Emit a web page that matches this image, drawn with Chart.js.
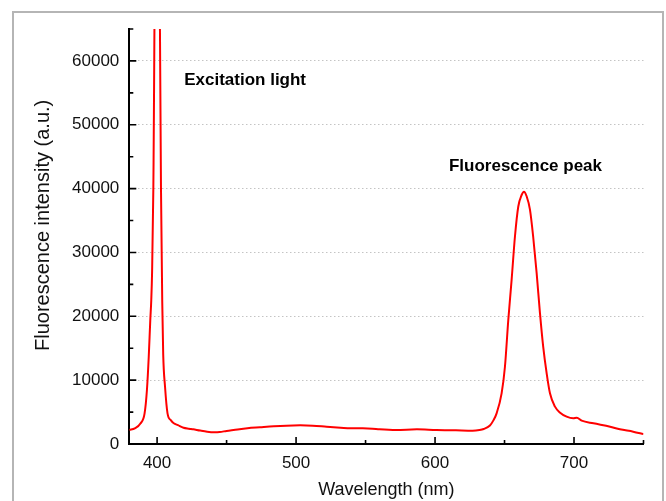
<!DOCTYPE html>
<html>
<head>
<meta charset="utf-8">
<script src="https://cdn.jsdelivr.net/npm/chart.js@4.4.0/dist/chart.umd.min.js"></script>
<style>
  html, body { margin: 0; padding: 0; background: #fff; overflow: hidden; }
  #wrap { position: relative; width: 666px; height: 501px; }
  #frame { position: absolute; left: 12px; top: 11px; width: 648px; height: 500px;
           border: 2px solid #b5b5b5; border-bottom: none; pointer-events: none; }
</style>
</head>
<body>
<div id="wrap">
  <canvas id="spectrum" width="666" height="501"></canvas>
  <div id="frame"></div>
</div>
<script>
// spectrum (nm, a.u.)
const wavelength = [380, 384, 388, 391, 392.7, 394, 395.1, 395.8, 396.4, 397.3,
  400, 402.8, 403.7, 404.4, 405.7, 407.5, 410, 412, 415, 419,
  423, 426, 431, 436, 441, 445, 450, 455, 465, 474,
  484, 493, 503, 512, 522, 532, 539, 548, 555, 560,
  572, 587, 601, 615, 627, 632, 635, 639.5, 642, 644.3,
  647.9, 650.3, 652.7, 655.1, 657.5, 659.9, 662.3, 664, 665.9, 668.3,
  670.6, 673.1, 675.5, 677.8, 680.3, 682.7, 686.3, 690, 694.7, 699.4,
  702, 705.5, 714, 726, 733, 742.6, 750]
const intensity = [2190, 2450, 3200, 4800, 8500, 13700, 19400, 22500, 27000, 40000,
  120000, 40000, 22300, 14000, 9000, 4800, 3700, 3250, 2950, 2550,
  2400, 2300, 2100, 1930, 1850, 1880, 2050, 2190, 2460, 2610,
  2770, 2870, 2920, 2870, 2710, 2560, 2460, 2460, 2400, 2300,
  2190, 2300, 2190, 2140, 2090, 2190, 2350, 2900, 3700, 4800,
  7940, 12100, 19400, 25700, 32500, 37200, 39000, 39500, 38800, 36700,
  32500, 26800, 20500, 15300, 11100, 7940, 5850, 4900, 4280, 4020,
  4130, 3660, 3240, 2710, 2300, 1930, 1550]

// axis ticks
const xLabelTicks = [400, 500, 600, 700]
const xMinorTicks = [450, 550, 650, 750]
const yLabelTicks = [0, 10000, 20000, 30000, 40000, 50000, 60000]
const yMinorTicks = [5000, 15000, 25000, 35000, 45000, 55000, 65000]

// text notes on the plot
const notes = [
  {text: 'Excitation light', x: 419.5, y: 56900},
  {text: 'Fluorescence peak', x: 610, y: 43500}
]

const fontFamily = '"Liberation Sans", Arial, sans-serif'

// small inward ticks + the two labels
const axisDecor = {
  id: 'axisDecor',
  afterDatasetsDraw(chart) {
    const {ctx, chartArea: a} = chart
    const x = chart.scales.x, y = chart.scales.y
    ctx.save()
    ctx.strokeStyle = '#000'
    ctx.lineWidth = 1.6
    ctx.beginPath()
    xLabelTicks.forEach(v => {
      const px = x.getPixelForValue(v)
      ctx.moveTo(px, a.bottom); ctx.lineTo(px, a.bottom - 7)
    })
    xMinorTicks.forEach(v => {
      const px = x.getPixelForValue(v)
      ctx.moveTo(px, a.bottom); ctx.lineTo(px, a.bottom - 4)
    })
    yLabelTicks.forEach(v => {
      const py = y.getPixelForValue(v)
      ctx.moveTo(a.left, py); ctx.lineTo(a.left + 7, py)
    })
    yMinorTicks.forEach(v => {
      const py = y.getPixelForValue(v)
      ctx.moveTo(a.left, py); ctx.lineTo(a.left + 4, py)
    })
    ctx.stroke()

    ctx.fillStyle = '#000'
    ctx.font = 'bold 17px ' + fontFamily
    ctx.textAlign = 'left'
    ctx.textBaseline = 'middle'
    notes.forEach(n => {
      ctx.fillText(n.text, x.getPixelForValue(n.x), y.getPixelForValue(n.y))
    })
    ctx.restore()
  }
}

new Chart(document.getElementById('spectrum').getContext('2d'), {
  type: 'line',
  data: {
    datasets: [{
      data: wavelength.map((w, i) => ({x: w, y: intensity[i]})),
      borderColor: '#ff0000',
      borderWidth: 2,
      pointRadius: 0,
      cubicInterpolationMode: 'monotone',
      fill: false
    }]
  },
  options: {
    responsive: false,
    devicePixelRatio: 1,
    animation: false,
    layout: {padding: {left: 0, right: 22.5, top: 29, bottom: 0}},
    plugins: {legend: {display: false}, tooltip: {enabled: false}},
    scales: {
      x: {
        type: 'linear',
        min: 380,
        max: 750,
        afterBuildTicks: s => { s.ticks = xLabelTicks.map(v => ({value: v})) },
        afterFit: s => { s.height = 57 },
        grid: {display: false, drawTicks: false},
        border: {display: true, color: '#000', width: 2},
        ticks: {padding: 9, color: '#111', font: {family: fontFamily, size: 17}},
        title: {display: true, text: 'Wavelength (nm)', color: '#111',
                padding: {top: 0, bottom: 0}, font: {family: fontFamily, size: 18}}
      },
      y: {
        min: 0,
        max: 65000,
        afterBuildTicks: s => { s.ticks = yLabelTicks.map(v => ({value: v})) },
        afterFit: s => { s.width = 129.3 },
        grid: {
          drawTicks: false,
          lineWidth: 1,
          color: c => (c.tick && c.tick.value === 0) ? 'rgba(0,0,0,0)' : '#c4c4c4'
        },
        border: {display: true, color: '#000', width: 2, dash: [1.5, 2.5]},
        ticks: {
          padding: 10, color: '#111', font: {family: fontFamily, size: 17},
          callback: v => String(v)
        },
        title: {display: true, text: '\u00a0\u00a0\u00a0\u00a0Fluorescence intensity (a.u.)', color: '#111',
                padding: {top: 31, bottom: 0}, font: {family: fontFamily, size: 20}}
      }
    }
  },
  plugins: [axisDecor]
})
</script>
</body>
</html>
